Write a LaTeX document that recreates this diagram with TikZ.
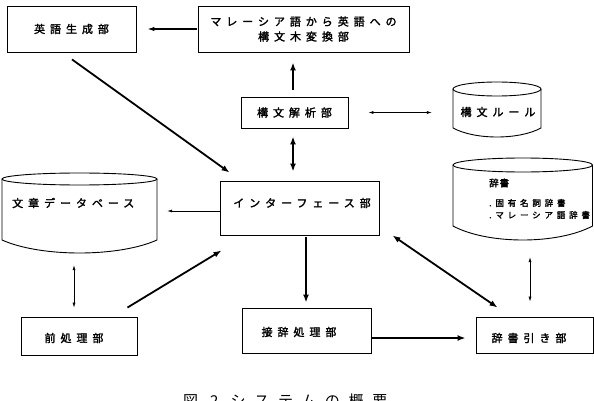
\documentclass[tikz,border=0pt]{standalone}
\usepackage{fontspec}
\usetikzlibrary{calc,arrows.meta}
\newfontfamily\jp{Noto Sans CJK JP}[LetterSpace=45,FakeBold=2]
\newfontfamily\jpsmall{Noto Sans CJK JP}[LetterSpace=45,FakeBold=2]
\newfontfamily\jptight{Noto Sans CJK JP}[LetterSpace=10,FakeBold=2.5]
\newfontfamily\jpcap{Noto Sans CJK JP}[LetterSpace=58]
\newcommand\mycyl[6]{%
  \draw[cylline] ({(#1+#2)/2},{#3+#5}) ellipse [x radius={(#2-#1)/2}, y radius=#5];
  \draw[cylline] (#1,{#3+#5}) -- (#1,{#4-#6})
    .. controls ({#1+(#2-#1)/4},{#4+#6/3}) and ({#2-(#2-#1)/4},{#4+#6/3}) .. (#2,{#4-#6})
    -- (#2,{#3+#5});}
\begin{document}
\begin{tikzpicture}[x=1pt,y=-1pt,
  jtext/.style={font=\jp\fontsize{11}{15}\selectfont, inner sep=0pt},
  box/.style={draw, line width=0.9pt, inner sep=0pt, jtext},
  cylrect/.style={draw=none, inner sep=0pt},
  cylline/.style={line width=0.9pt},
  thickarr/.style={line width=1.8pt, -{Latex[length=8pt,width=6pt]}},
  thickdbl/.style={line width=1.8pt, {Latex[length=8pt,width=6pt]}-{Latex[length=8pt,width=6pt]}},
  midarr/.style={line width=1.2pt, -{Latex[length=7pt,width=4.5pt]}},
  thinarr/.style={line width=0.6pt, -{Latex[length=5pt,width=3pt]}},
  thindbl/.style={line width=0.6pt, {Latex[length=5pt,width=3pt]}-{Latex[length=5pt,width=3pt]}}]
\useasboundingbox (0,0) rectangle (594,401);
\fill[white] (0,0) rectangle (594,401);

% boxes
\node[box, minimum width=129pt, minimum height=46pt] (gen) at (71.5,29) {英語生成部};
\node[box, minimum width=211pt, minimum height=46pt, align=center] (conv) at (303.5,29) {マレーシア語から英語への\\構文木変換部};
\node[box, minimum width=107pt, minimum height=31pt] (parse) at (294.5,112.5) {構文解析部};
\node[box, minimum width=159pt, minimum height=54pt] (intf) at (299.5,208) {};
\node[jtext] (intft) at (302,203) {インターフェース部};
\node[box, minimum width=116pt, minimum height=38pt] (pre) at (79,336) {};
\node[jtext] (pret) at (74,338) {前処理部};
\node[box, minimum width=129pt, minimum height=45pt] (affix) at (306.5,330.5) {};
\node[jtext] (affixt) at (299,332) {接辞処理部};
\node[box, minimum width=117pt, minimum height=36pt] (look) at (534.5,335) {};
\node[jtext] (lookt) at (529,338) {辞書引き部};

% cylinders
\node[cylrect, minimum width=88pt, minimum height=55pt] (rule) at (497,109.5) {};
\mycyl{453}{541}{82}{137}{7}{9}
\node[jtext] (rulet) at (498,112) {構文ルール};
\node[cylrect, minimum width=155pt, minimum height=80pt] (db) at (79.5,213) {};
\mycyl{2}{157}{173}{253}{6}{13}
\node[jtext, anchor=west] (dbt) at (12,203) {文章データベース};
\node[cylrect, minimum width=140pt, minimum height=82pt] (dict) at (523,199) {};
\mycyl{453}{592.5}{158}{240}{7}{14}
\node[inner sep=0pt, anchor=west, font=\jptight\fontsize{9.5}{11}\selectfont] (dictt) at (489,183) {辞書};
\node[inner sep=0pt, anchor=west, align=left, font=\jpsmall\fontsize{8.5}{12}\selectfont] (dictl) at (489,209) {.固有名詞辞書\\.マレーシア語辞書};

% connectors
\draw[midarr] ($(conv.west)+(-1,0)$) -- ($(gen.east)+(11,0)$);
\draw[thickarr] ($(parse.north)+(-1.5,-7)$) -- ($(conv.south)+(-10.5,10)$);
\draw[thickarr] ($(gen.south)+(0.5,7)$) -- ($(intf.north west)+(10,-8)$);
\draw[thickdbl] ($(parse.south)+(-1.5,8)$) -- ($(intf.north)+(-6.5,-9)$);
\draw[thindbl] ($(parse.east)+(20,0)$) -- ($(rule.west)+(-21,3)$);
\draw[thinarr] ($(intf.west)+(0,3)$) -- ($(db.east)+(10,-2)$);
\draw[thindbl] ($(db.south)+(-5.5,12)$) -- ($(pre.north)+(-5,-9)$);
\draw[thickarr] ($(pre.north east)+(-10,-9)$) -- ($(intf.south west)+(2,15)$);
\draw[thickarr] ($(intf.south)+(6.5,2)$) -- ($(affix.north)+(-0.5,-5)$);
\draw[thickarr] ($(affix.east)+(0,7.5)$) -- ($(look.west)+(-10,3)$);
\draw[thickdbl] ($(intf.south east)+(13,0)$) -- ($(look.north west)+(22,-9)$);
\draw[thindbl] ($(dict.south)+(7,17)$) -- ($(look.north)+(-4.5,-15)$);

% caption (cut off at the bottom edge, as in the reference)
\node[inner sep=0pt, anchor=base west, font=\jpcap\fontsize{15}{15}\selectfont] (cap) at (183,406) {図 2 システムの概要};
\end{tikzpicture}
\end{document}
